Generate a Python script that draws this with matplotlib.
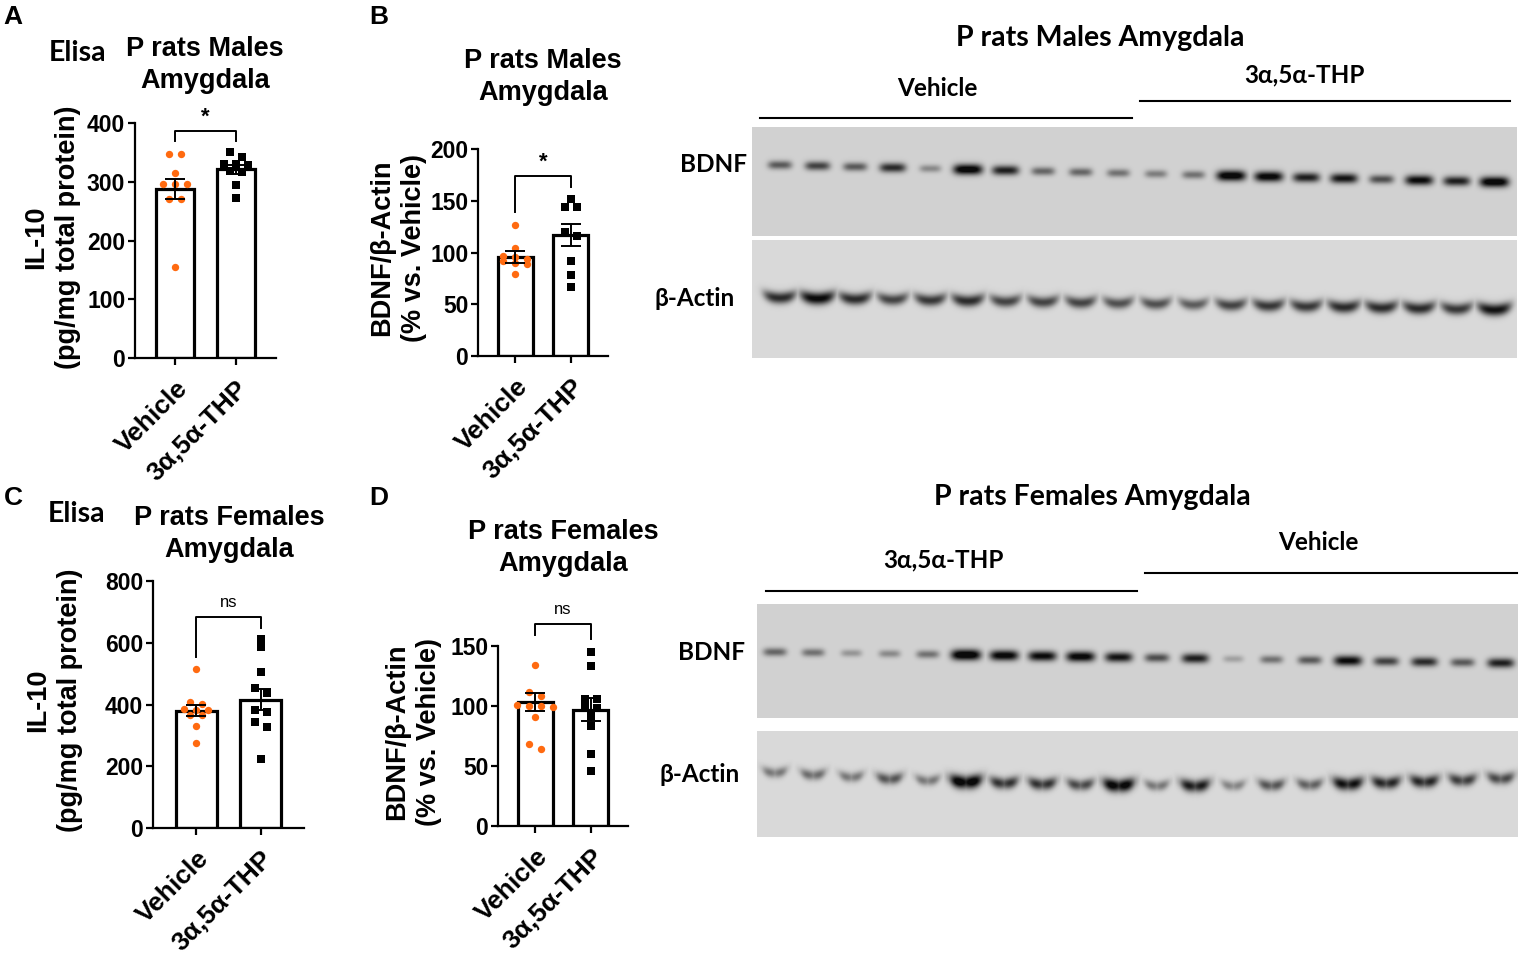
import numpy as np
import matplotlib
matplotlib.use("Agg")
import matplotlib.pyplot as plt
from matplotlib.lines import Line2D

# ---- values ----
groups = ["Vehicle", "3α,5α-THP"]

# A: ELISA IL-10, males
a_vehicle = [347, 347, 315, 296, 296, 296, 271, 271, 155]
a_thp = [350, 342, 331, 330, 329, 318, 317, 295, 272]
a_mean = [288, 321]
a_sem = [17, 7]

# B: BDNF/beta-actin, males
b_vehicle = [127, 104, 97, 96, 94, 92, 90, 89, 79]
b_thp = [152, 144, 144, 120, 116, 92, 78, 67]
b_mean = [95.5, 116.5]
b_sem = [5.5, 10.7]

# C: ELISA IL-10, females
c_vehicle = [514, 408, 403, 384, 382, 382, 366, 366, 331, 274]
c_thp = [611, 587, 504, 452, 438, 382, 375, 342, 328, 222]
c_mean = [380, 416]
c_sem = [18, 35]

# D: BDNF/beta-actin, females
d_vehicle = [134, 112, 108, 101, 100, 100, 99, 91, 68, 64]
d_thp = [145, 133, 106, 106, 100, 98, 92, 83, 60, 46]
d_mean = [103, 97]
d_sem = [7.5, 9.3]

# relative band darkness per lane (0..1), read from the blots
male_bdnf = [0.5, 0.6, 0.5, 0.7, 0.3, 0.95, 0.75, 0.45, 0.45, 0.4,
             0.35, 0.4, 0.95, 0.9, 0.75, 0.8, 0.55, 0.85, 0.75, 0.95]
male_actin = [0.7, 0.85, 0.7, 0.6, 0.65, 0.7, 0.6, 0.6, 0.6, 0.55,
              0.55, 0.5, 0.6, 0.65, 0.65, 0.7, 0.7, 0.7, 0.65, 0.8]
female_bdnf = [0.45, 0.4, 0.25, 0.3, 0.4, 1.0, 0.9, 0.85, 0.9, 0.8,
               0.55, 0.75, 0.2, 0.4, 0.5, 0.85, 0.6, 0.7, 0.5, 0.75]
female_actin = [0.4, 0.45, 0.4, 0.55, 0.4, 1.0, 0.7, 0.7, 0.6, 0.95,
                0.4, 0.8, 0.35, 0.55, 0.5, 0.85, 0.75, 0.75, 0.65, 0.6]

ORANGE = "#FF6A10"
W, H = 1528, 960
FONT = "Liberation Sans"
BLOT_FONT = ["Lato", "DejaVu Sans"]

fig = plt.figure(figsize=(W / 100, H / 100), dpi=100)


def add_px_axes(x0, y0, x1, y1):
    return fig.add_axes([x0 / W, 1 - y1 / H, (x1 - x0) / W, (y1 - y0) / H])


def ftext(x, y, s, **kw):
    kw.setdefault("ha", "center")
    kw.setdefault("va", "center")
    return fig.text(x / W, 1 - y / H, s, **kw)


def swarm_offsets(values, thr, step):
    # put points with nearly equal values side by side (Prism-like)
    order = np.argsort(values)[::-1]
    offs = np.zeros(len(values))
    i = 0
    while i < len(order):
        start = values[order[i]]
        row = [order[i]]
        j = i + 1
        while j < len(order) and start - values[order[j]] < thr:
            row.append(order[j])
            j += 1
        n = len(row)
        for k, idx in enumerate(row):
            offs[idx] = (k - (n - 1) / 2) * step
        i = j
    return offs


def bar_panel(box, ymax, ystep, veh, thp, means, sems, bracket, sig):
    ax = add_px_axes(*box)
    px_per_unit = (box[3] - box[1]) / ymax
    unit_x = (box[2] - box[0]) / 2.34
    ax.bar([0, 1], means, width=0.63, color="white", edgecolor="black",
           linewidth=2.3, zorder=1)
    for x, vals, mk, col in [(0, veh, "o", ORANGE), (1, thp, "s", "black")]:
        off = swarm_offsets(np.array(vals, float), 5 / px_per_unit,
                            12 / unit_x)
        ax.scatter(x + off, vals, s=28, marker=mk, color=col, zorder=3,
                   linewidths=0, clip_on=False)
    ax.errorbar([0, 1], means, yerr=sems, fmt="none", ecolor="black",
                elinewidth=1.4, capsize=7, capthick=1.4, zorder=4)
    top, lb, rb, ly = bracket
    ax.plot([0, 0, 1, 1], [lb, top, top, rb], color="black", lw=1.4,
            clip_on=False)
    if sig == "*":
        ax.text(0.5, ly, "*", ha="center", va="center", fontsize=16,
                family=FONT, fontweight="bold")
    else:
        ax.text(0.5, ly, sig, ha="center", va="center", fontsize=12,
                family=FONT)
    ax.set_xlim(-0.67, 1.67)
    ax.set_ylim(0, ymax)
    ax.set_yticks(np.arange(0, ymax + 1, ystep))
    ax.set_yticklabels([f"{int(v)}" for v in np.arange(0, ymax + 1, ystep)],
                       fontsize=16.5, fontweight="bold", family=FONT)
    ax.set_xticks([0, 1])
    ax.set_xticklabels(groups, rotation=45, ha="right", va="top",
                       rotation_mode="anchor", fontsize=19,
                       fontweight="bold", family=FONT)
    ax.tick_params(axis="both", width=1.6, length=5, direction="out")
    ax.tick_params(axis="x", pad=8)
    ax.tick_params(axis="y", pad=2)
    for side in ["top", "right"]:
        ax.spines[side].set_visible(False)
    for side in ["left", "bottom"]:
        ax.spines[side].set_linewidth(1.6)
    return ax


def draw_blot(box, strength, first, step, y0, y1, bw, bh, bg,
              smile=0.0, sag=0.0, lobes=1):
    x0, top, x1, bottom = box
    w, h = x1 - x0, bottom - top
    ax = add_px_axes(*box)
    yy, xx = np.mgrid[0:h, 0:w] + 0.5
    dark = np.zeros((h, w))
    n = len(strength)
    for i, s in enumerate(strength):
        t = i / (n - 1)
        xc = first + i * step
        yc = y0 + (y1 - y0) * t + sag * 4 * t * (1 - t)
        sx = bw * (0.7 + 0.45 * s)
        sy = bh * (0.7 + 0.5 * s)
        u = (xx - xc) / sx
        v = (yy - (yc - smile * u ** 2)) / sy
        band = np.exp(-u ** 4 - v ** 2)
        if lobes == 2:
            band = band * (0.75 + 0.25 * np.abs(np.sin(np.pi * u)))
        dark = np.maximum(dark, s * band)
    img = bg * (1 - np.clip(dark * 1.15, 0, 0.95))
    ax.imshow(img, cmap="gray", vmin=0, vmax=1, extent=(0, w, h, 0),
              aspect="auto", interpolation="bilinear")
    ax.set_axis_off()
    return ax


def hline(x0, x1, y):
    fig.add_artist(Line2D([x0 / W, x1 / W], [1 - y / H, 1 - y / H],
                          color="black", lw=1.5, transform=fig.transFigure))


# ---- bar panels ----
bar_panel((135, 123, 276, 358), 400, 100, a_vehicle, a_thp, a_mean, a_sem,
          (387, 370, 370, 410), "*")
bar_panel((478, 149, 608, 356), 200, 50, b_vehicle, b_thp, b_mean, b_sem,
          (174, 139, 163, 187), "*")
bar_panel((153, 581, 304, 828), 800, 200, c_vehicle, c_thp, c_mean, c_sem,
          (684, 554, 648, 729), "ns")
bar_panel((498, 646, 628, 826), 150, 50, d_vehicle, d_thp, d_mean, d_sem,
          (168, 159, 156, 180), "ns")

lab = dict(family=FONT, fontweight="bold")
ftext(13, 17, "A", fontsize=19, **lab)
ftext(379, 17, "B", fontsize=19, **lab)
ftext(13, 498, "C", fontsize=19, **lab)
ftext(379, 498, "D", fontsize=19, **lab)

ftext(78, 53, "Elisa", fontsize=20.5, family=BLOT_FONT, fontweight="bold")
ftext(77, 514, "Elisa", fontsize=20.5, family=BLOT_FONT, fontweight="bold")
ttl = dict(fontsize=19.5, linespacing=1.3, **lab)
ftext(205, 65, "P rats Males\nAmygdala", **ttl)
ftext(543, 77, "P rats Males\nAmygdala", **ttl)
ftext(229, 534, "P rats Females\nAmygdala", **ttl)
ftext(563, 548, "P rats Females\nAmygdala", **ttl)

ylab = dict(fontsize=19.5, rotation=90, linespacing=1.3, **lab)
ftext(52, 237, "IL-10\n(pg/mg total protein)", **ylab)
ftext(398, 248, "BDNF/β-Actin\n(% vs. Vehicle)", **ylab)
ftext(54, 700, "IL-10\n(pg/mg total protein)", **ylab)
ftext(413, 732, "BDNF/β-Actin\n(% vs. Vehicle)", **ylab)

# ---- western blots ----
bl = dict(family=BLOT_FONT, fontweight="bold")
ftext(1100, 38, "P rats Males Amygdala", fontsize=20.5, **bl)
ftext(937, 89, "Vehicle", fontsize=17.5, **bl)
ftext(1304, 75, "3α,5α-THP", fontsize=17.5, **bl)
hline(760, 1132, 118)
hline(1140, 1510, 101)
ftext(713, 165, "BDNF", fontsize=17.5, **bl)
ftext(695, 298, "β-Actin", fontsize=17.5, **bl)
draw_blot((752, 127, 1517, 236), male_bdnf, 28, 37.6, 38, 55, 13, 4.5, 0.82)
draw_blot((752, 240, 1517, 358), male_actin, 28, 37.6, 58, 70, 16, 5.5, 0.85,
          smile=4)

ftext(1092, 497, "P rats Females Amygdala", fontsize=20.5, **bl)
ftext(943, 560, "3α,5α-THP", fontsize=17.5, **bl)
ftext(1318, 543, "Vehicle", fontsize=17.5, **bl)
hline(766, 1137, 591)
hline(1145, 1517, 573)
ftext(712, 652, "BDNF", fontsize=17.5, **bl)
ftext(700, 774, "β-Actin", fontsize=17.5, **bl)
draw_blot((757, 604, 1518, 718), female_bdnf, 18, 38.2, 48, 59, 13, 4.5, 0.82)
draw_blot((757, 731, 1518, 837), female_actin, 18, 38.2, 42, 48, 15, 5.5, 0.85,
          smile=4, sag=10, lobes=2)

fig.savefig("out.png", dpi=100)
